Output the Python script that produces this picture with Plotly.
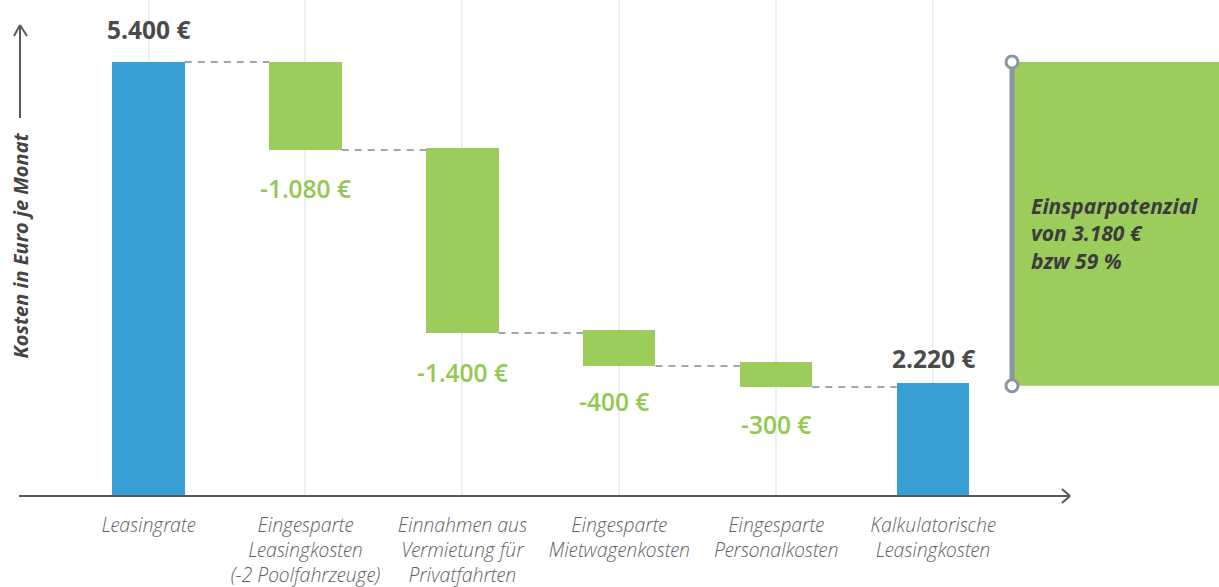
import plotly.graph_objects as go

# ---------------- data ----------------
categories = [
    ["Leasingrate"],
    ["Eingesparte", "Leasingkosten", "(-2 Poolfahrzeuge)"],
    ["Einnahmen aus", "Vermietung für", "Privatfahrten"],
    ["Eingesparte", "Mietwagenkosten"],
    ["Eingesparte", "Personalkosten"],
    ["Kalkulatorische", "Leasingkosten"],
]
value_labels = ["5.400 €", "-1.080 €", "-1.400 €", "-400 €", "-300 €", "2.220 €"]
# drawn extent of each bar (the original graphic is not strictly to scale)
bar_top = [5400, 5400, 4330, 2065, 1667, 1406]
bar_bottom = [0, 4305, 2028, 1618, 1356, 0]
bar_kind = ["total", "delta", "delta", "delta", "delta", "total"]
savings_text = ["Einsparpotenzial", "von 3.180 €", "bzw 59 %"]
y_title = "Kosten in Euro je Monat"

# ---------------- style ----------------
W, H = 1219, 587
MB = 91                      # bottom margin -> plot area height
PH = H - MB
BLUE = "#379fd3"
GREEN = "#9ccc5c"
GREEN_TXT = "#93c851"
DARK = "#4a4a4a"
AXIS = "#5a5a5a"
CONN = "#9ea6b5"
FONT = "Open Sans"

x0c, step = 148.5, 156.9     # pixel centre of first category, spacing
x_range = [-x0c / step, (W - x0c) / step]
y_scale = 434 / 5400          # pixels per unit
y_range = [0, PH / y_scale]
bw = 72.5 / step


def px(x):
    return x / W


def py(y):
    return (PH - y) / PH


n = len(categories)
xs = list(range(n))
colors = [BLUE if k == "total" else GREEN for k in bar_kind]

fig = go.Figure()
fig.add_trace(go.Bar(
    x=xs, y=[t - b for t, b in zip(bar_top, bar_bottom)], base=bar_bottom,
    width=bw, marker=dict(color=colors, line=dict(width=0)),
    hoverinfo="skip", showlegend=False,
))

# dashed connectors between consecutive bars
cx, cy = [], []
for i in range(n - 1):
    lvl = bar_top[i] if i == 0 else bar_bottom[i]
    cx += [i + bw / 2, i + 1 - bw / 2, None]
    cy += [lvl, lvl, None]
fig.add_trace(go.Scatter(x=cx, y=cy, mode="lines",
                         line=dict(color=CONN, width=2, dash="7px,6px"),
                         hoverinfo="skip", showlegend=False))

# savings bracket + box
bx = n - 1 + (1012 - (x0c + (n - 1) * step)) / step
fig.add_shape(type="rect", xref="x", yref="y", x0=bx, x1=x_range[1] + 1,
              y0=bar_top[-1] - 35, y1=bar_top[0], fillcolor=GREEN,
              line=dict(width=0), layer="below")
fig.add_trace(go.Scatter(
    x=[bx, bx], y=[bar_top[0], bar_top[-1] - 35], mode="lines+markers",
    line=dict(color="#8a94a6", width=5),
    marker=dict(size=12, color="white", line=dict(color="#8a94a6", width=3)),
    hoverinfo="skip", showlegend=False, cliponaxis=False))

annotations = []
# value labels
offsets = [33, -38, -39, -36, -37, 25]
xshifts = [0, 0, 0, -5, 0, 0]
for i in range(n):
    if bar_kind[i] == "total":
        yv, col, wt = bar_top[i], DARK, 700
    else:
        yv, col, wt = bar_bottom[i], GREEN_TXT, 600
    annotations.append(dict(
        x=i, y=yv, xref="x", yref="y", text=value_labels[i], showarrow=False,
        yshift=offsets[i], xshift=xshifts[i], yanchor="middle",
        font=dict(family=FONT, size=24.5, color=col, weight=wt)))

# savings text
annotations.append(dict(
    x=px(1029), y=py(233), xref="paper", yref="paper",
    text="<br>".join(savings_text), showarrow=False, xanchor="left",
    yanchor="middle", align="left",
    font=dict(family=FONT, size=21, color="#3c3c3c", weight=700,
              style="italic")))

# y axis title
annotations.append(dict(
    x=px(19.5), y=py(246), xref="paper", yref="paper", text=y_title,
    showarrow=False, textangle=-90, xanchor="center", yanchor="middle",
    font=dict(family=FONT, size=20, color="#444444", weight=700,
              style="italic")))

# axes with arrows (decoration)
shapes = []


def seg(xa, ya, xb, yb):
    shapes.append(dict(type="line", xref="paper", yref="paper",
                       x0=px(xa), y0=py(ya), x1=px(xb), y1=py(yb),
                       line=dict(color=AXIS, width=2)))


seg(20, 497, 20, 372)
seg(20, 118, 20, 25)
seg(20, 25, 14, 36)
seg(20, 25, 27, 36)
seg(19, 496, 1069, 496)
seg(1070, 496, 1062, 489)
seg(1070, 496, 1062, 503)

fig.update_layout(
    width=W, height=H, autosize=False,
    margin=dict(l=0, r=0, t=0, b=MB, pad=0),
    plot_bgcolor="white", paper_bgcolor="white",
    bargap=0, showlegend=False,
    annotations=annotations, shapes=shapes,
    xaxis=dict(range=x_range, tickvals=xs,
               ticktext=["<br>".join(c) for c in categories],
               showgrid=True, gridcolor="#eceff3", gridwidth=1.5,
               zeroline=False, showline=False, ticks="",
               ticklabelstandoff=15,
               tickfont=dict(family="Open Sans Light, Open Sans", size=19.5,
                             color="#626262", weight=300, style="italic")),
    yaxis=dict(range=y_range, showgrid=False, zeroline=False,
               showline=False, showticklabels=False, ticks=""),
)

fig.write_html("out.html",
               config={"displayModeBar": False},
               post_script="document.body.style.margin='0';"
                           "document.body.style.overflow='hidden';")
